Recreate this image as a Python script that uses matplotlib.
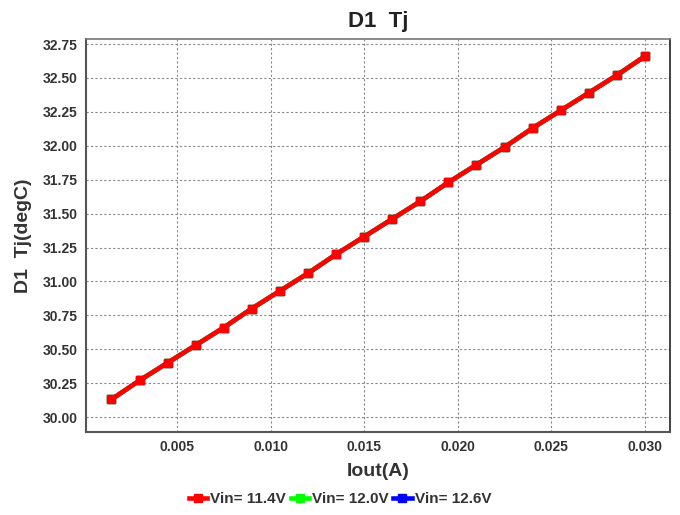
import matplotlib
matplotlib.use("Agg")
import matplotlib.pyplot as plt

iout = [0.0015, 0.003, 0.0045, 0.006, 0.0075, 0.009, 0.0105, 0.012, 0.0135, 0.015,
        0.0165, 0.018, 0.0195, 0.021, 0.0225, 0.024, 0.0255, 0.027, 0.0285, 0.030]
tj_114 = [30.13, 30.27, 30.40, 30.53, 30.66, 30.80, 30.93, 31.06, 31.20, 31.33,
          31.46, 31.59, 31.73, 31.86, 31.99, 32.13, 32.26, 32.39, 32.52, 32.66]
tj_120 = list(tj_114)
tj_126 = list(tj_114)
labels = ["Vin= 11.4V", "Vin= 12.0V", "Vin= 12.6V"]
colors = ["#ff0000", "#00ff00", "#0000ff"]
xticks = [0.005, 0.010, 0.015, 0.020, 0.025, 0.030]
yticks = [30.00, 30.25, 30.50, 30.75, 31.00, 31.25, 31.50, 31.75, 32.00, 32.25, 32.50, 32.75]

plt.rcParams['font.family'] = ['Liberation Sans', 'DejaVu Sans']
fig = plt.figure(figsize=(6.8, 5.15), dpi=100)
ax = fig.add_axes([86/680, 1-432/515, (670-86)/680, (432-39)/515])

series = [tj_114, tj_120, tj_126]
handles = []
for ys, c, lb in zip(series, colors, labels):
    h, = ax.plot(iout, ys, color=c, lw=3.3, marker='s', ms=5.5, label=lb)
    handles.append(h)
for i, h in enumerate(handles):
    h.set_zorder(5 - i)

ax.set_xlim(0.00014, 0.03134)
ax.set_ylim(29.89, 32.787)
ax.set_xticks(xticks)
ax.set_xticklabels([f"{v:.3f}" for v in xticks])
ax.set_yticks(yticks)
ax.set_yticklabels([f"{v:.2f}" for v in yticks])
ax.tick_params(length=0, labelsize=10, colors='#333333', pad=6)
for lab in ax.get_xticklabels() + ax.get_yticklabels():
    lab.set_fontweight('bold')
ax.grid(True, color='#888888', ls=(0, (2, 2)), lw=0.8)
for s in ['left', 'bottom']:
    ax.spines[s].set_color('#555555')
    ax.spines[s].set_linewidth(1.5)
ax.spines['top'].set_color('#777777')
ax.spines['top'].set_linewidth(1.2)
ax.spines['right'].set_color('#222222')
ax.spines['right'].set_linewidth(1.2)

ax.set_title("D1  Tj", fontsize=16, fontweight='bold', color='#222222', pad=9)
ax.set_xlabel("Iout(A)", fontsize=14, fontweight='bold', color='#333333', labelpad=6)
ax.set_ylabel("D1  Tj(degC)", fontsize=14, fontweight='bold', color='#333333', labelpad=8)

leg = fig.legend(handles=handles, labels=labels, loc='lower center', bbox_to_anchor=(0.5, -0.01),
                 ncol=3, frameon=False, handlelength=1.2, handletextpad=0.2, columnspacing=0.3,
                 prop={'weight': 'bold', 'size': 11})
for t in leg.get_texts():
    t.set_color('#333333')

fig.savefig("out.png", dpi=100)
